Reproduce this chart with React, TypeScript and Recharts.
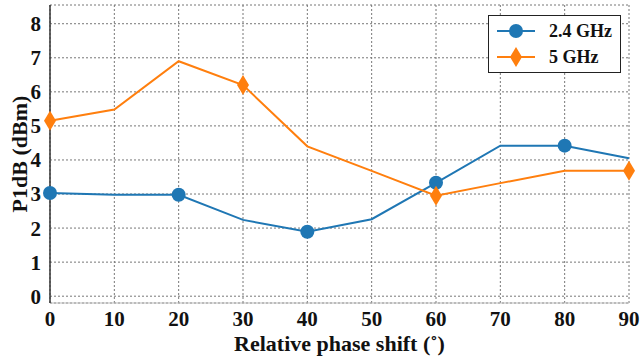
import React from 'react';
import { LineChart, Line, XAxis, YAxis, CartesianGrid } from 'recharts';

const phaseShift = [0, 10, 20, 30, 40, 50, 60, 70, 80, 90];
const p1dB24 = [3.03, 2.98, 2.98, 2.24, 1.89, 2.26, 3.33, 4.42, 4.42, 4.05];
const p1dB5 = [5.15, 5.48, 6.9, 6.2, 4.4, 3.68, 2.95, 3.32, 3.68, 3.68];
const markers24 = [0, 20, 40, 60, 80];
const markers5 = [0, 30, 60, 90];
const yTicks = [0, 1, 2, 3, 4, 5, 6, 7, 8];

const BLUE = '#1f77b4';
const ORANGE = '#ff7f0e';
const FONT = '"Liberation Serif", "Times New Roman", serif';

const data = phaseShift.map((x, i) => ({ x, a: p1dB24[i], b: p1dB5[i] }));

const circleDot = (props: any) => {
  const { cx, cy, payload, index } = props;
  if (!markers24.includes(payload.x)) return <g key={`c-${index}`} />;
  return <circle key={`c-${index}`} cx={cx} cy={cy} r={7} fill={BLUE} />;
};

const diamondDot = (props: any) => {
  const { cx, cy, payload, index } = props;
  if (!markers5.includes(payload.x)) return <g key={`d-${index}`} />;
  return (
    <path
      key={`d-${index}`}
      d={`M${cx},${cy - 10} L${cx + 6},${cy} L${cx},${cy + 10} L${cx - 6},${cy} Z`}
      fill={ORANGE}
    />
  );
};

const LegendBox = () => (
  <div
    style={{
      position: 'absolute',
      left: 488,
      top: 15,
      width: 131,
      height: 56,
      border: '1px solid #222',
      background: '#fff',
      fontFamily: FONT,
      fontWeight: 'bold',
      fontSize: 18,
    }}
  >
    {[
      { label: '2.4 GHz', color: BLUE, shape: 'circle' },
      { label: '5 GHz', color: ORANGE, shape: 'diamond' },
    ].map((e, i) => (
      <div key={e.label} style={{ position: 'absolute', left: 7, top: 4 + i * 26, height: 22, display: 'flex', alignItems: 'center' }}>
        <svg width={40} height={22}>
          <line x1={1} y1={11} x2={39} y2={11} stroke={e.color} strokeWidth={2} />
          {e.shape === 'circle' ? (
            <circle cx={20} cy={11} r={7} fill={e.color} />
          ) : (
            <path d="M20,1 L26,11 L20,21 L14,11 Z" fill={e.color} />
          )}
        </svg>
        <span style={{ marginLeft: 13, color: '#111', whiteSpace: 'nowrap' }}>{e.label}</span>
      </div>
    ))}
  </div>
);

const tickStyle = { fontFamily: FONT, fontWeight: 'bold', fontSize: 21, fill: '#111' };
const labelStyle = { fontFamily: FONT, fontWeight: 'bold', fontSize: 22, fill: '#111' };

export default function App() {
  return (
    <div style={{ position: 'absolute', left: 0, top: 0, width: 642, height: 358, background: '#fff' }}>
      <LineChart width={642} height={358} data={data} margin={{ top: 5, right: 13, bottom: 0, left: 0 }}>
        <CartesianGrid stroke="#777" strokeDasharray="2 2" strokeWidth={1} />
        <XAxis
          dataKey="x"
          type="number"
          domain={[0, 90]}
          ticks={phaseShift}
          height={55}
          tickLine={false}
          axisLine={{ stroke: '#bbb' }}
          tickMargin={2}
          tick={tickStyle}
          label={{ value: 'Relative phase shift (˚)', position: 'insideBottom', offset: 7, style: labelStyle }}
        />
        <YAxis
          type="number"
          domain={[-0.2, 8.55]}
          ticks={yTicks}
          width={50}
          tickLine={false}
          axisLine={{ stroke: '#333', strokeWidth: 1.5 }}
          tickMargin={3}
          tick={tickStyle}
          allowDataOverflow
          label={{ value: 'P1dB (dBm)', angle: -90, position: 'insideLeft', offset: 0, dx: 19, style: { ...labelStyle, textAnchor: 'middle' } }}
        />
        <Line dataKey="a" stroke={BLUE} strokeWidth={2} dot={circleDot} activeDot={false} isAnimationActive={false} />
        <Line dataKey="b" stroke={ORANGE} strokeWidth={2} dot={diamondDot} activeDot={false} isAnimationActive={false} />
      </LineChart>
      <LegendBox />
    </div>
  );
}
